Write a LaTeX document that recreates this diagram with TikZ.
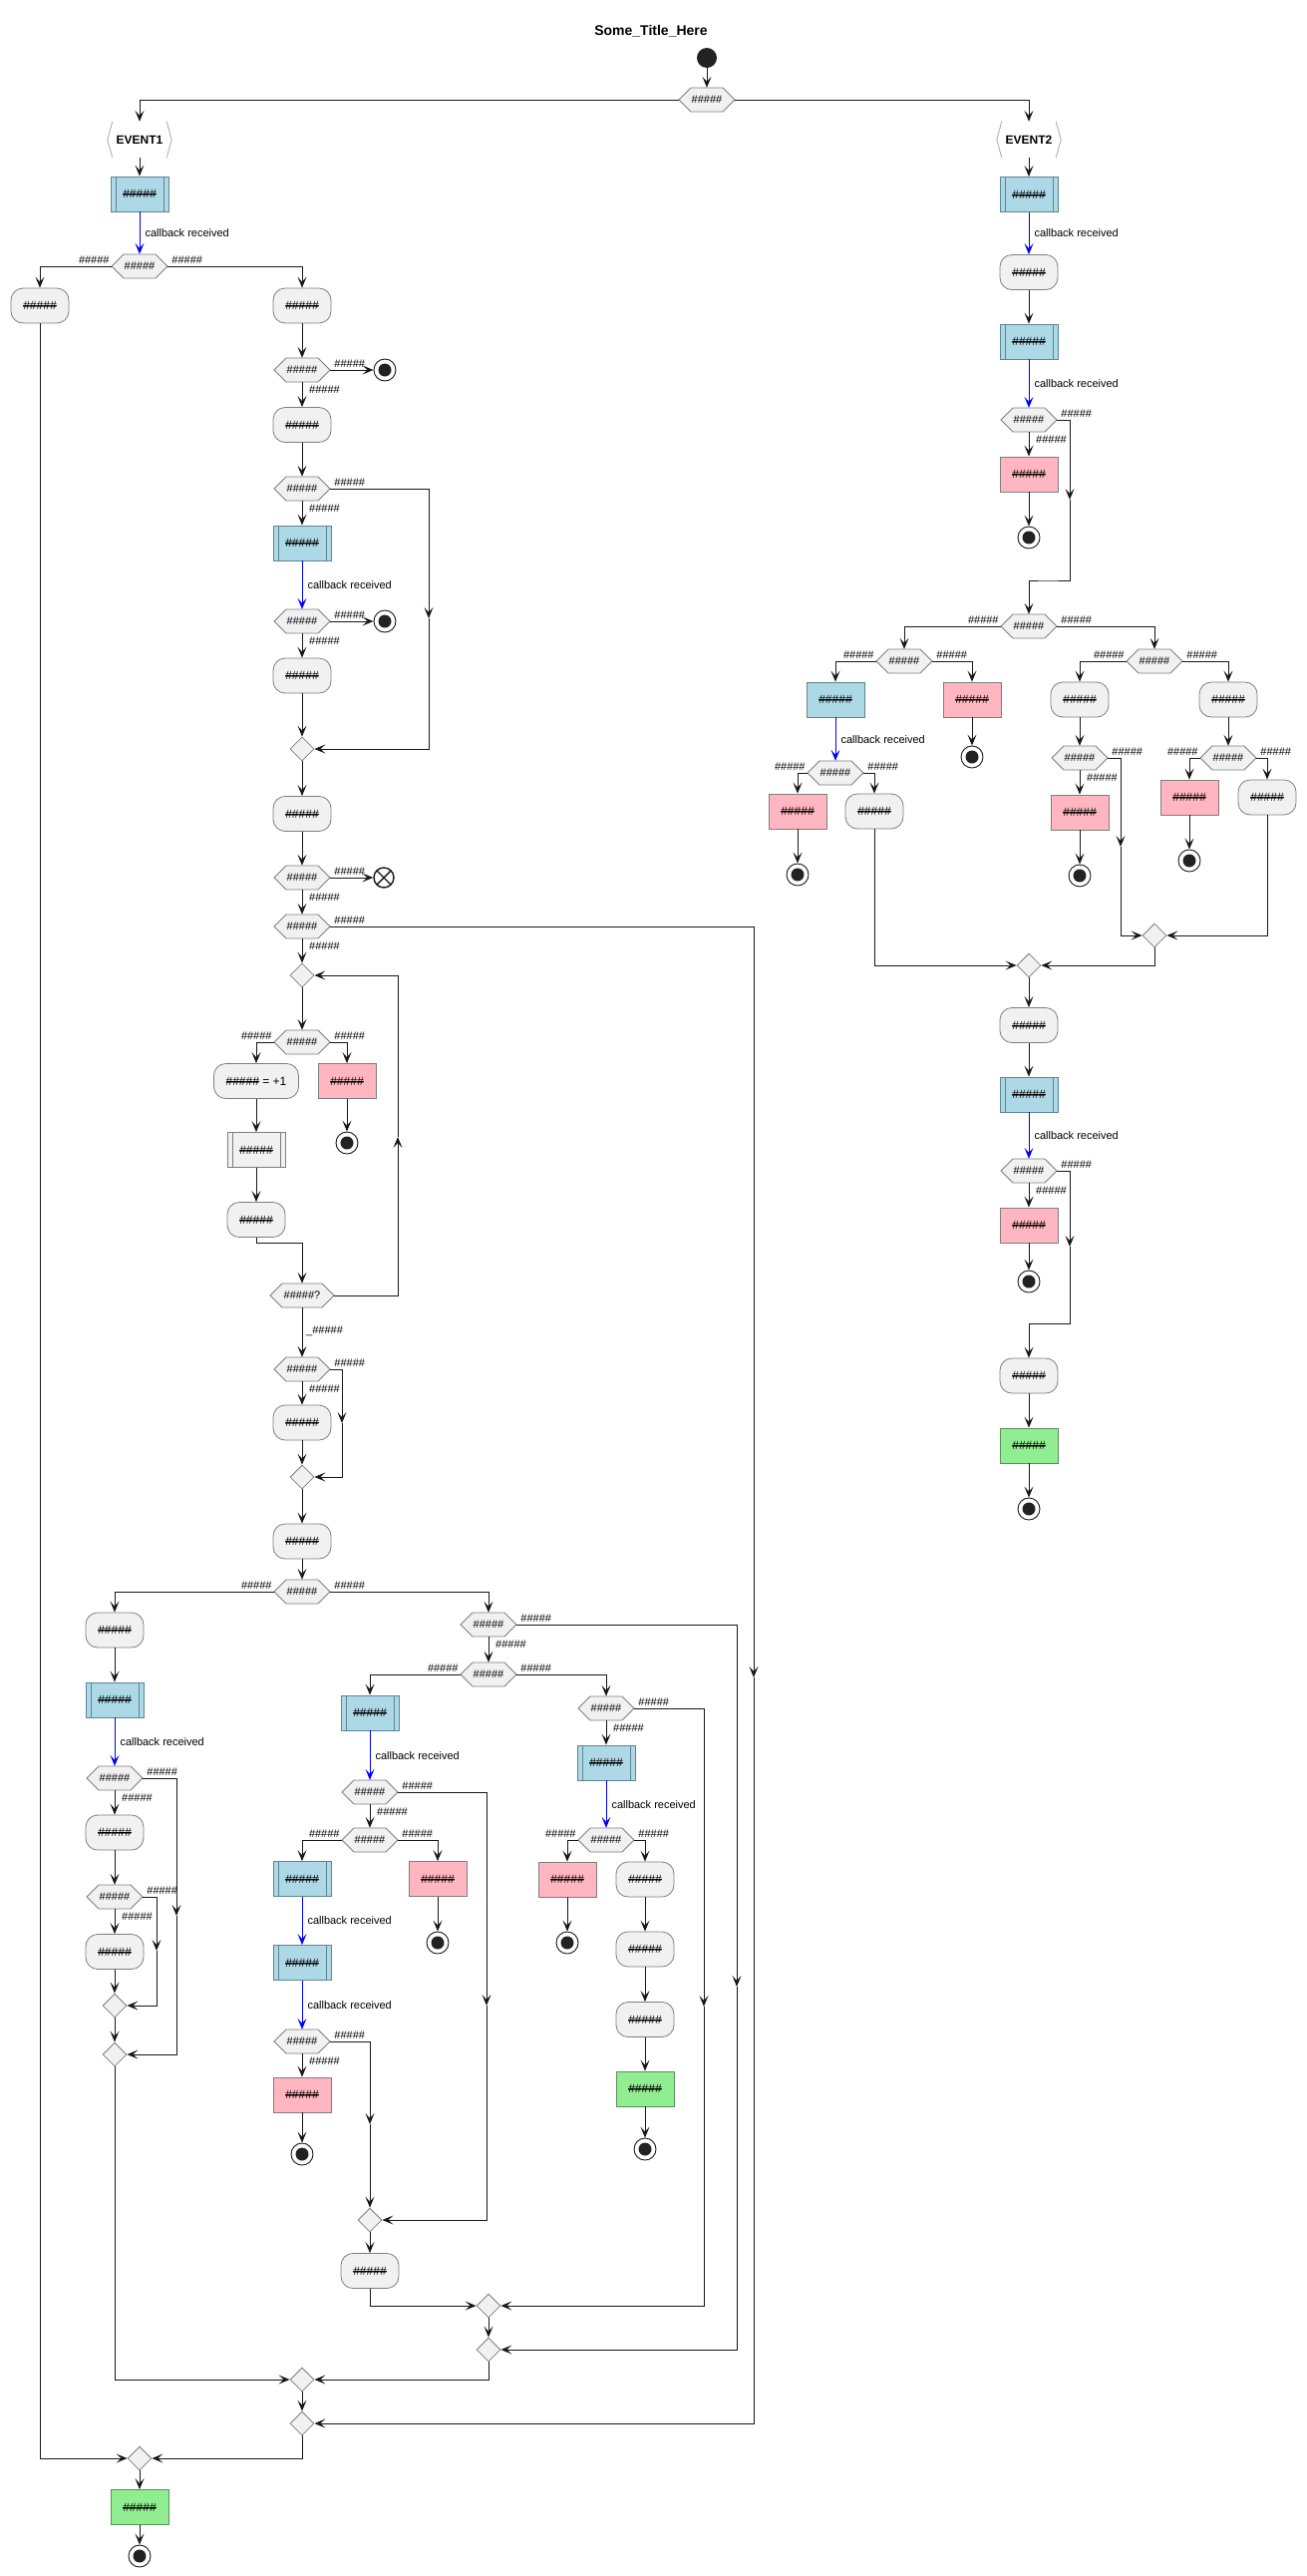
\documentclass[tikz,border=0pt]{standalone}
\usepackage{fontspec}
\setmainfont{Liberation Sans}
\usetikzlibrary{arrows.meta,shapes.geometric}
\definecolor{lc}{HTML}{181818}
\definecolor{bc}{HTML}{7E7E7E}
\definecolor{gf}{HTML}{F1F1F1}
\definecolor{bf}{HTML}{ADD8E6}
\definecolor{bbc}{HTML}{5F8595}
\definecolor{pf}{HTML}{FFB6C1}
\definecolor{grf}{HTML}{90EE90}
\definecolor{grc}{HTML}{5A8F5A}
\definecolor{dk}{HTML}{222222}
\definecolor{evc}{HTML}{A8A8A8}
\newcommand\fs[1]{\fontsize{#1}{#1}\selectfont}
\newcommand\hh{\#\#\#\#\#}
\newsavebox\strkbox
\newcommand\strk[1]{\sbox\strkbox{#1}\rlap{\rule[0.32em]{\wd\strkbox}{0.7pt}}\usebox\strkbox}
\newcommand\sh{\strk{\hh}}
\newcounter{lbc}
\newcommand\lab[3]{\stepcounter{lbc}\node[lbl, anchor=#1] (lab\arabic{lbc}) at (#2) {#3};}
\newcommand\labR[1]{\lab{west}{[shift={(4,-6)}]#1.east}{\hh}}
\newcommand\labL[1]{\lab{east}{[shift={(-2,-6)}]#1.west}{\hh}}
\newcommand\labB[1]{\lab{west}{[shift={(7,19.5)}]#1.center}{\hh}}
\newcommand\hexn[4][28]{%
  \filldraw[draw=bc, line width=0.8pt, fill=gf, shift={(#3)}] (-#1,0) -- ({-#1+12},-12) -- ({#1-12},-12) -- (#1,0) -- ({#1-12},12) -- ({-#1+12},12) -- cycle;
  \node[hexb, minimum width={2*#1pt}] (#2) at (#3) {#4};}
\tikzset{
  ln/.style={draw=lc, line width=1pt},
  arr/.style={ln, -{Stealth[length=11pt,width=9pt,inset=5pt]}},
  barr/.style={arr, draw=blue},
  nd/.style={inner sep=0pt, align=center, font={\fs{12}}},
  gbox/.style={nd, draw=bc, line width=0.8pt, fill=gf, rounded corners=12pt, minimum width=58pt, minimum height=35pt},
  rbox/.style={nd, draw=bc, line width=0.8pt, rectangle, minimum width=58pt, minimum height=35pt},
  bbox/.style={rbox, fill=bf, draw=bbc},
  pbox/.style={rbox, fill=pf},
  grbox/.style={rbox, fill=grf, draw=grc},
  bars/.style={path picture={\draw[draw=#1, line width=0.8pt] ([xshift=5pt]path picture bounding box.north west) -- ([xshift=5pt]path picture bounding box.south west) ([xshift=-5pt]path picture bounding box.north east) -- ([xshift=-5pt]path picture bounding box.south east);}},
  subb/.style={bbox, bars=bbc},
  subg/.style={rbox, fill=gf, bars=bc},
  hexb/.style={inner sep=0pt, minimum height=24pt, font={\fs{11}}},
  dia/.style={diamond, draw=bc, line width=0.8pt, fill=gf, minimum width=24pt, minimum height=24pt, inner sep=0pt},
  startc/.style={circle, fill=dk, minimum size=20pt, inner sep=0pt},
  endc/.style={circle, draw=lc, line width=0.9pt, fill=white, minimum size=22pt, inner sep=0pt, path picture={\fill[dk] (path picture bounding box.center) circle (6.5pt);}},
  xend/.style={circle, draw=lc, line width=1.4pt, fill=white, minimum size=20pt, inner sep=0pt, path picture={\draw[lc, line width=1.4pt] (path picture bounding box.north west) -- (path picture bounding box.south east) (path picture bounding box.north east) -- (path picture bounding box.south west);}},
  lbl/.style={inner sep=0pt, font={\fs{11}}},
  cbl/.style={inner sep=0pt, font={\fs{11}}, anchor=west, xshift=5pt},
  evn/.style={inner sep=0pt, minimum width=64pt, minimum height=36pt, font={\fs{12}\bfseries}},
  evb/.style={draw=evc, line width=0.8pt},
}
\begin{document}
\begin{tikzpicture}[x=1pt,y=-1pt]
\useasboundingbox (0,0) rectangle (1310,2583);
\node[font={\fs{14}\bfseries}, inner sep=0pt] (title) at (653,31) {Some\_Title\_Here};
% ---------- top
\node[startc] (st) at (709,58) {};
\hexn{H0}{709,100}{\hh}
\node[evn] (ev1) at (140,140) {EVENT1};
\node[evn] (ev2) at (1032,140) {EVENT2};
\draw[evb] ([xshift=5pt]ev1.north west) -- (ev1.west) -- ([xshift=5pt]ev1.south west) ([xshift=-5pt]ev1.north east) -- (ev1.east) -- ([xshift=-5pt]ev1.south east);
\draw[evb] ([xshift=5pt]ev2.north west) -- (ev2.west) -- ([xshift=5pt]ev2.south west) ([xshift=-5pt]ev2.north east) -- (ev2.east) -- ([xshift=-5pt]ev2.south east);
% ---------- left column
\node[subb] (B1) at (140,194.5) {\sh};
\hexn{H1}{140,267}{\hh}
\node[gbox] (L1) at (40,306.5) {\sh};
\node[gbox] (R1) at (303,306.5) {\sh};
\hexn{H2}{303,371}{\hh}
\node[endc] (E1) at (386,371) {};
\node[gbox] (R2) at (303,426) {\sh};
\hexn{H3}{303,490}{\hh}
\coordinate (m1) at (430,620);
\node[subb] (B2) at (303,544.5) {\sh};
\hexn{H4}{303,623}{\hh}
\node[endc] (E2) at (386,623) {};
\node[gbox] (R3) at (303,677.5) {\sh};
\node[dia] (D1) at (303,751) {};
\node[gbox] (R4) at (303,816) {\sh};
\hexn{H5}{303,880}{\hh}
\node[xend] (X1) at (385,880) {};
\hexn{H6}{303,929}{\hh}
\coordinate (m2) at (756,1682);
\node[dia] (D2) at (303,978) {};
\hexn{H7}{303,1045}{\hh}
\node[gbox, minimum width=85pt] (A1) at (257,1084) {\strk{\hh} = +1};
\node[pbox] (P1) at (348,1084) {\sh};
\node[endc] (E3) at (348,1146) {};
\node[subg] (S1) at (257,1153) {\sh};
\node[gbox] (R5) at (257,1223) {\sh};
\coordinate (k1) at (280,1246);
\hexn[32]{Hq}{303,1299}{\hh?}
\coordinate (m3) at (399,1140);
\hexn{H8}{303,1373}{\hh}
\coordinate (m4) at (343,1427);
\node[gbox] (R6) at (303,1426.5) {\sh};
\node[dia] (D3) at (303,1481) {};
\node[gbox] (R7) at (303,1545.5) {\sh};
\hexn{H9}{303,1596}{\hh}
\node[gbox] (L2) at (115,1634.5) {\sh};
\node[subb] (L3) at (115,1704.5) {\sh};
\hexn{H10}{115,1783}{\hh}
\coordinate (m5) at (177,1921);
\node[gbox] (L4) at (115,1837.5) {\sh};
\hexn{H11}{115,1902}{\hh}
\coordinate (m6) at (157,1956);
\node[gbox] (L5) at (115,1957) {\sh};
\node[dia] (D4) at (115,2011) {};
\node[dia] (D5) at (115,2060) {};
\hexn{H12}{490,1629}{\hh}
\coordinate (m7) at (739,1992);
\hexn{H13}{490,1679}{\hh}
\node[subb] (B3) at (371,1717.5) {\sh};
\hexn{H14}{371,1797}{\hh}
\coordinate (m8) at (488,2011);
\hexn{H15}{371,1845}{\hh}
\node[subb] (B4) at (303,1884) {\sh};
\node[pbox] (P2) at (439,1884) {\sh};
\node[endc] (E4) at (439,1948) {};
\node[subb] (B5) at (303,1968) {\sh};
\hexn{H16}{303,2047}{\hh}
\coordinate (m9) at (371,2130);
\node[pbox] (P3) at (303,2100.5) {\sh};
\node[endc] (E5) at (303,2160) {};
\node[dia] (D6) at (371,2226) {};
\node[gbox] (R8) at (371,2277) {\sh};
\node[dia] (D7a) at (490,2312) {};
\node[dia] (D7b) at (490,2356) {};
\hexn{H17}{608,1713}{\hh}
\coordinate (m10) at (706,2012);
\node[subb] (B6) at (608,1767.5) {\sh};
\hexn{H18}{608,1845}{\hh}
\node[pbox] (P4) at (569,1884.5) {\sh};
\node[endc] (E6) at (569,1948) {};
\node[gbox] (G1) at (647,1884.5) {\sh};
\node[gbox] (G2) at (647,1954.5) {\sh};
\node[gbox] (G3) at (647,2025) {\sh};
\node[grbox] (GR1) at (647,2094.5) {\sh};
\node[endc] (E7) at (647,2155) {};
\node[dia] (D8) at (303,2386) {};
\node[dia] (D9) at (303,2430) {};
\node[dia] (D10) at (140,2465) {};
\node[grbox] (GR2) at (140,2514) {\sh};
\node[endc] (E8) at (140,2563) {};
% ---------- right column
\node[subb] (B7) at (1032,195) {\sh};
\node[gbox] (R9) at (1032,273) {\sh};
\node[subb] (B8) at (1032,342.5) {\sh};
\hexn{H19}{1032,421}{\hh}
\coordinate (m11) at (1073,501);
\coordinate (k2) at (1050,582);
\node[pbox] (P5) at (1032,475.5) {\sh};
\node[endc] (E9) at (1032,539) {};
\hexn{H20}{1032,628}{\hh}
\hexn{H21}{907,663}{\hh}
\node[bbox] (B9) at (838,701.5) {\sh};
\hexn{H22}{838,775}{\hh}
\node[pbox] (P6) at (800,813.5) {\sh};
\node[endc] (E10) at (800,877) {};
\node[gbox] (R10) at (877,813.5) {\sh};
\node[pbox] (P7) at (975,701.5) {\sh};
\node[endc] (E11) at (975,759) {};
\hexn{H23}{1158,663}{\hh}
\node[gbox] (R11) at (1083,701.5) {\sh};
\hexn{H24}{1083,760}{\hh}
\coordinate (m12) at (1124,849);
\node[pbox] (P8) at (1083,814.5) {\sh};
\node[endc] (E12) at (1083,878) {};
\node[gbox] (R12) at (1232,701.5) {\sh};
\hexn{H25}{1232,760}{\hh}
\node[pbox] (P9) at (1193,799.5) {\sh};
\node[endc] (E13) at (1193,863) {};
\node[gbox] (R13) at (1271,799.5) {\sh};
\node[dia] (D11) at (1158,938) {};
\node[dia] (D12) at (1032,968) {};
\node[gbox] (R14) at (1032,1028) {\sh};
\node[subb] (B10) at (1032,1097.5) {\sh};
\hexn{H26}{1032,1174}{\hh}
\coordinate (m13) at (1073,1250);
\coordinate (k3) at (1050,1327);
\node[pbox] (P10) at (1032,1228.5) {\sh};
\node[endc] (E14) at (1032,1285) {};
\node[gbox] (R15) at (1032,1379.5) {\sh};
\node[grbox] (GR3) at (1032,1449.5) {\sh};
\node[endc] (E15) at (1032,1513) {};
% ---------- branch labels
\labL{H1}\labR{H1}
\labR{H2}\labB{H2}
\labR{H3}\labB{H3}
\labR{H4}\labB{H4}
\labR{H5}\labB{H5}
\labR{H6}\labB{H6}
\labL{H7}\labR{H7}
\lab{west}{307,1335}{\_\hh}
\labR{H8}\labB{H8}
\labL{H9}\labR{H9}
\labR{H10}\labB{H10}
\labR{H11}\labB{H11}
\labR{H12}\labB{H12}
\labL{H13}\labR{H13}
\labR{H14}\labB{H14}
\labL{H15}\labR{H15}
\labR{H16}\labB{H16}
\labR{H17}\labB{H17}
\labL{H18}\labR{H18}
\labR{H19}\labB{H19}
\labL{H20}\labR{H20}
\labL{H21}\labR{H21}
\labL{H22}\labR{H22}
\labL{H23}\labR{H23}
\labR{H24}\labB{H24}
\labL{H25}\labR{H25}
\labR{H26}\labB{H26}
% ---------- connectors: top and left
\draw[arr] (st) -- (H0);
\draw[arr] (H0.west) -| (ev1);
\draw[arr] (H0.east) -| (ev2);
\draw[arr] (ev1) -- (B1);
\draw[barr] (B1) -- node[cbl] (cb1) {callback received} (H1);
\draw[arr] (H1.west) -| (L1);
\draw[arr] (H1.east) -| (R1);
\draw[arr] (R1) -- (H2);
\draw[arr] (H2) -- (E1);
\draw[arr] (H2) -- (R2);
\draw[arr] (R2) -- (H3);
\draw[arr] (H3.east) -| (m1);
\draw[arr] (m1) |- (D1);
\draw[arr] (H3) -- (B2);
\draw[barr] (B2) -- node[cbl] (cb2) {callback received} (H4);
\draw[arr] (H4) -- (E2);
\draw[arr] (H4) -- (R3);
\draw[arr] (R3) -- (D1);
\draw[arr] (D1) -- (R4);
\draw[arr] (R4) -- (H5);
\draw[arr] (H5) -- (X1);
\draw[arr] (H5) -- (H6);
\draw[arr] (H6.east) -| (m2);
\draw[arr] (m2) |- (D9);
\draw[arr] (H6) -- (D2);
\draw[arr] (D2) -- (H7);
\draw[arr] (H7.west) -| (A1);
\draw[arr] (H7.east) -| (P1);
\draw[arr] (P1) -- (E3);
\draw[arr] (A1) -- (S1);
\draw[arr] (S1) -- (R5);
\draw[arr] (R5) |- (k1) -| (Hq);
\draw[arr] (Hq.east) -| (m3);
\draw[arr] (m3) |- (D2);
\draw[arr] (Hq) -- (H8);
\draw[arr] (H8.east) -| (m4);
\draw[arr] (m4) |- (D3);
\draw[arr] (H8) -- (R6);
\draw[arr] (R6) -- (D3);
\draw[arr] (D3) -- (R7);
\draw[arr] (R7) -- (H9);
\draw[arr] (H9.west) -| (L2);
\draw[arr] (H9.east) -| (H12);
\draw[arr] (L2) -- (L3);
\draw[barr] (L3) -- node[cbl] (cb3) {callback received} (H10);
\draw[arr] (H10.east) -| (m5);
\draw[arr] (m5) |- (D5);
\draw[arr] (H10) -- (L4);
\draw[arr] (L4) -- (H11);
\draw[arr] (H11.east) -| (m6);
\draw[arr] (m6) |- (D4);
\draw[arr] (H11) -- (L5);
\draw[arr] (L5) -- (D4);
\draw[arr] (D4) -- (D5);
\draw[arr] (D5) |- (D8);
\draw[arr] (H12.east) -| (m7);
\draw[arr] (m7) |- (D7b);
\draw[arr] (H12) -- (H13);
\draw[arr] (H13.west) -| (B3);
\draw[arr] (H13.east) -| (H17);
\draw[barr] (B3) -- node[cbl] (cb4) {callback received} (H14);
\draw[arr] (H14.east) -| (m8);
\draw[arr] (m8) |- (D6);
\draw[arr] (H14) -- (H15);
\draw[arr] (H15.west) -| (B4);
\draw[arr] (H15.east) -| (P2);
\draw[arr] (P2) -- (E4);
\draw[barr] (B4) -- node[cbl] (cb5) {callback received} (B5);
\draw[barr] (B5) -- node[cbl] (cb6) {callback received} (H16);
\draw[arr] (H16.east) -| (m9);
\draw[arr] (m9) -- (D6);
\draw[arr] (H16) -- (P3);
\draw[arr] (P3) -- (E5);
\draw[arr] (D6) -- (R8);
\draw[arr] (R8) |- (D7a);
\draw[arr] (H17.east) -| (m10);
\draw[arr] (m10) |- (D7a);
\draw[arr] (H17) -- (B6);
\draw[barr] (B6) -- node[cbl] (cb7) {callback received} (H18);
\draw[arr] (H18.west) -| (P4);
\draw[arr] (P4) -- (E6);
\draw[arr] (H18.east) -| (G1);
\draw[arr] (G1) -- (G2);
\draw[arr] (G2) -- (G3);
\draw[arr] (G3) -- (GR1);
\draw[arr] (GR1) -- (E7);
\draw[arr] (D7a) -- (D7b);
\draw[arr] (D7b) |- (D8);
\draw[arr] (D8) -- (D9);
\draw[arr] (D9) |- (D10);
\draw[arr] (L1) |- (D10);
\draw[arr] (D10) -- (GR2);
\draw[arr] (GR2) -- (E8);
% ---------- connectors: right
\draw[arr] (ev2) -- (B7);
\draw[barr] (B7) -- node[cbl] (cb8) {callback received} (R9);
\draw[arr] (R9) -- (B8);
\draw[barr] (B8) -- node[cbl] (cb9) {callback received} (H19);
\draw[arr] (H19.east) -| (m11);
\draw[arr] (m11) |- (k2) -| (H20);
\draw[arr] (H19) -- (P5);
\draw[arr] (P5) -- (E9);
\draw[arr] (H20.west) -| (H21);
\draw[arr] (H20.east) -| (H23);
\draw[arr] (H21.west) -| (B9);
\draw[arr] (H21.east) -| (P7);
\draw[arr] (P7) -- (E11);
\draw[barr] (B9) -- node[cbl] (cb10) {callback received} (H22);
\draw[arr] (H22.west) -| (P6);
\draw[arr] (P6) -- (E10);
\draw[arr] (H22.east) -| (R10);
\draw[arr] (R10) |- (D12);
\draw[arr] (H23.west) -| (R11);
\draw[arr] (H23.east) -| (R12);
\draw[arr] (R11) -- (H24);
\draw[arr] (H24.east) -| (m12);
\draw[arr] (m12) |- (D11);
\draw[arr] (H24) -- (P8);
\draw[arr] (P8) -- (E12);
\draw[arr] (R12) -- (H25);
\draw[arr] (H25.west) -| (P9);
\draw[arr] (P9) -- (E13);
\draw[arr] (H25.east) -| (R13);
\draw[arr] (R13) |- (D11);
\draw[arr] (D11) |- (D12);
\draw[arr] (D12) -- (R14);
\draw[arr] (R14) -- (B10);
\draw[barr] (B10) -- node[cbl] (cb11) {callback received} (H26);
\draw[arr] (H26.east) -| (m13);
\draw[arr] (m13) |- (k3) -| (R15);
\draw[arr] (H26) -- (P10);
\draw[arr] (P10) -- (E14);
\draw[arr] (R15) -- (GR3);
\draw[arr] (GR3) -- (E15);
\end{tikzpicture}
\end{document}
